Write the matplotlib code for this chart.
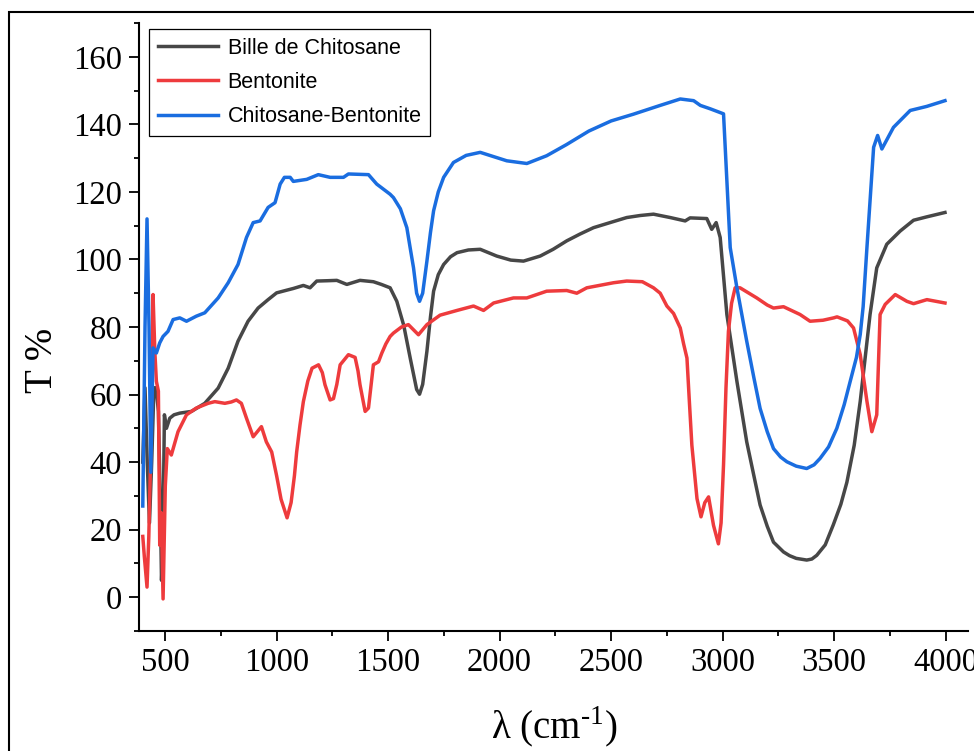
import matplotlib
matplotlib.use("Agg")
import matplotlib.pyplot as plt
from matplotlib.patches import Rectangle
from matplotlib.ticker import MultipleLocator

plt.rcParams['font.family'] = ['Liberation Serif', 'DejaVu Serif']
plt.rcParams['mathtext.fontset'] = 'custom'
plt.rcParams['mathtext.rm'] = 'Liberation Serif'

# Bille de Chitosane
wn_bille = [400, 410, 420, 430, 440, 450, 460, 470, 478, 484, 490, 497, 506, 521, 540,
            566, 618, 678, 738, 783, 827, 872, 917, 962, 1000, 1040, 1075, 1120, 1150,
            1180, 1230, 1270, 1315, 1374, 1434, 1470, 1509, 1539, 1570, 1600, 1628, 1641,
            1655, 1674, 1690, 1704, 1725, 1749, 1780, 1809, 1860, 1913, 1987, 2050, 2107,
            2182, 2240, 2301, 2360, 2421, 2500, 2570, 2630, 2690, 2765, 2832, 2854, 2929,
            2951, 2971, 2989, 3019, 3064, 3108, 3140, 3168, 3200, 3228, 3273, 3300, 3330,
            3377, 3400, 3422, 3460, 3496, 3530, 3557, 3590, 3617, 3661, 3691, 3736, 3796,
            3856, 3915, 3997]
t_bille = [40, 62, 40, 22, 40, 62, 62, 55, 30, 5, 15, 54, 50, 53, 54,
           54.5, 55, 57.4, 61.9, 67.8, 75.8, 81.7, 85.6, 88.1, 90.1, 90.8, 91.4, 92.3, 91.6,
           93.6, 93.7, 93.8, 92.6, 93.8, 93.4, 92.6, 91.6, 87.6, 80.5, 70.5, 61.5, 60.1,
           63, 72.8, 83, 90.6, 95.5, 98.5, 100.8, 102, 102.8, 103, 101, 99.8, 99.5,
           101, 103, 105.5, 107.5, 109.4, 111, 112.4, 113, 113.4, 112.4, 111.4, 112.3, 112.1,
           108.9, 110.9, 106.5, 83.7, 63.9, 46, 36, 27.3, 21, 16.3, 13.4, 12.3, 11.5,
           11, 11.3, 12.4, 15.5, 21.4, 27.5, 34, 45, 58, 83.7, 97.5, 104.5, 108.4,
           111.6, 112.6, 113.9]

# Bentonite
wn_bento = [400, 407, 419, 427, 436, 446, 454, 461, 470, 476, 483, 491, 501, 510, 528,
            558, 596, 640, 693, 723, 768, 797, 820, 842, 865, 895, 932, 954, 978, 1000,
            1020, 1047, 1065, 1080, 1090, 1105, 1120, 1140, 1159, 1188, 1205, 1217, 1240,
            1255, 1270, 1285, 1322, 1352, 1365, 1374, 1397, 1412, 1434, 1457, 1472, 1490,
            1509, 1524, 1560, 1591, 1636, 1674, 1733, 1809, 1883, 1928, 1973, 2062, 2122,
            2211, 2301, 2346, 2391, 2511, 2570, 2640, 2690, 2720, 2750, 2780, 2810, 2825,
            2840, 2850, 2862, 2885, 2903, 2920, 2937, 2959, 2981, 2993, 3004, 3015, 3026,
            3040, 3056, 3078, 3153, 3200, 3228, 3273, 3347, 3392, 3450, 3498, 3513, 3560,
            3587, 3617, 3647, 3669, 3691, 3706, 3729, 3774, 3826, 3856, 3916, 3997]
t_bento = [18, 12, 3, 18, 44, 89.6, 72.8, 63.9, 61, 15.4, 25, -0.5, 33, 44, 42.1,
           49, 54, 56, 57.4, 57.9, 57.4, 57.8, 58.4, 57.4, 53, 47.5, 50.5, 46, 43, 36,
           29, 23.5, 28, 36, 43, 51, 57.9, 64, 67.8, 68.8, 66.5, 62.9, 58.4,
           58.8, 63, 68.8, 71.8, 71, 67, 62.9, 55, 56, 68.8, 69.7, 72.3, 75,
           77.2, 78.2, 80, 80.7, 77.7, 80.7, 83.5, 84.9, 86.2, 84.9, 87.1, 88.6, 88.6,
           90.6, 90.8, 90, 91.6, 93.1, 93.6, 93.4, 91.6, 90, 86.2, 84, 79.7, 75,
           70.8, 58.9, 45, 29.2, 23.8, 28, 29.7, 21.3, 15.8, 22, 39.2, 62, 78.7,
           87, 91.6, 91.6, 88.6, 86.5, 85.6, 86, 83.7, 81.7, 82, 82.7, 83, 81.8,
           79.7, 71.8, 58, 49, 54, 83.7, 86.7, 89.6, 87.6, 86.9, 88.1, 87.1]

# Chitosane-Bentonite
wn_cb = [400, 410, 419, 428, 436, 446, 461, 476, 491, 513, 536, 566, 596, 640, 678,
         738, 783, 827, 865, 895, 926, 962, 993, 1016, 1035, 1061, 1075, 1135, 1187,
         1240, 1300, 1322, 1412, 1449, 1509, 1524, 1555, 1584, 1600, 1614, 1628, 1641,
         1655, 1674, 1690, 1704, 1725, 1749, 1793, 1850, 1913, 1970, 2032, 2122, 2211,
         2300, 2400, 2500, 2600, 2720, 2810, 2870, 2900, 2944, 3004, 3019, 3034, 3064,
         3108, 3140, 3168, 3200, 3228, 3260, 3288, 3330, 3377, 3410, 3437, 3475, 3512,
         3545, 3572, 3600, 3617, 3630, 3647, 3677, 3695, 3714, 3766, 3841, 3915, 3997]
t_cb = [27, 80, 112, 80, 37, 73.8, 72.3, 75.3, 77.2, 78.7, 82.2, 82.7, 81.7, 83.2, 84.2,
        88.6, 93.1, 98.5, 106.5, 110.9, 111.4, 115.4, 116.8, 122.3, 124.3, 124.3, 123.1, 123.7, 125.1,
        124.3, 124.3, 125.3, 125.1, 122.3, 119.3, 118.3, 115, 109.4, 103, 97.5, 90, 87.6,
        90, 99.5, 108, 114.4, 120, 124.3, 128.7, 130.8, 131.7, 130.5, 129.2, 128.4, 130.7,
        134, 138, 141, 143, 145.6, 147.5, 147, 145.6, 144.6, 143.1, 123.3, 103.5, 91.6,
        75.8, 65, 55.9, 49, 44, 41.5, 40.1, 38.8, 38.1, 39.2, 41.1, 44.5, 50,
        57, 63.9, 71, 77.8, 86, 103.5, 133.2, 136.7, 132.7, 139.1, 144.1, 145.3, 147]

fig = plt.figure(figsize=(9.74, 7.51), dpi=100)
ax = fig.add_axes([0.1427, 0.1598, 0.8511, 0.8096])

ax.plot(wn_bille, t_bille, color='#474747', lw=2.5, label='Bille de Chitosane')
ax.plot(wn_bento, t_bento, color='#ee3b3d', lw=2.5, label='Bentonite')
ax.plot(wn_cb, t_cb, color='#1a6de0', lw=2.5, label='Chitosane-Bentonite')

ax.set_xlim(383, 4100)
ax.set_ylim(-10, 170)
ax.xaxis.set_major_locator(MultipleLocator(500))
ax.xaxis.set_minor_locator(MultipleLocator(250))
ax.yaxis.set_major_locator(MultipleLocator(20))
ax.yaxis.set_minor_locator(MultipleLocator(10))
ax.spines['top'].set_visible(False)
ax.spines['right'].set_visible(False)
for s in ['left', 'bottom']:
    ax.spines[s].set_linewidth(1.5)
ax.tick_params(which='major', direction='out', length=7, width=1.3, labelsize=23.5, pad=5)
ax.tick_params(which='minor', direction='out', length=3.5, width=1.3)

leg = ax.legend(loc='upper left', bbox_to_anchor=(0.012, 0.99),
                prop={'family': 'Liberation Sans', 'size': 15.5},
                frameon=True, fancybox=False, edgecolor='black', framealpha=1,
                handlelength=2.8, handletextpad=0.45, labelspacing=0.62,
                borderpad=0.4, borderaxespad=0)
leg.get_frame().set_linewidth(0.9)

fig.text(42.5 / 974, 1 - 360 / 751, 'T %', rotation=90, ha='center', va='center', fontsize=28)
fig.text(554 / 974, 1 - 727 / 751, 'λ (cm$^{\u2010 1}$)', ha='center', va='center', fontsize=28)

# outer frame around the figure
fig.patches.append(Rectangle((9 / 974, -0.2), 2, 1 - 12 / 751 + 0.2, transform=fig.transFigure,
                             fill=False, edgecolor='black', linewidth=1.5))

fig.savefig('out.png', dpi=100)
